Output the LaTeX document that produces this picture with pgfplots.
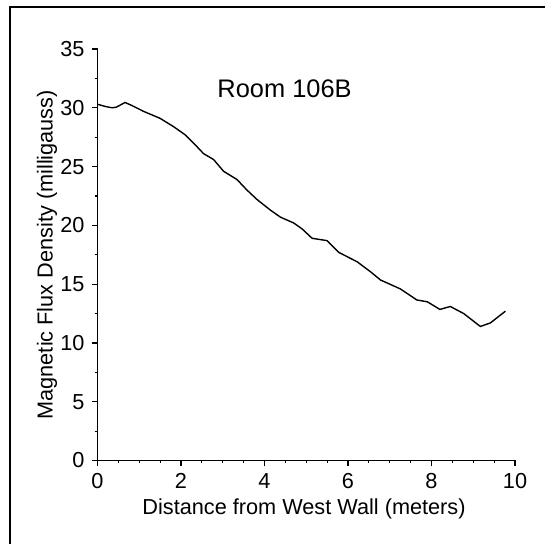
\documentclass[border=0pt]{standalone}
\usepackage{pgfplots}
\pgfplotsset{compat=1.18}
\usepackage{fontspec}
\setmainfont{Liberation Sans}
\begin{document}
\begin{tikzpicture}
\path[use as bounding box] (0pt,0pt) rectangle (272.5pt,272pt);
\draw[line width=1pt] (4.75pt,-5pt) -- (4.75pt,268.5pt) -- (280pt,268.5pt);
\begin{axis}[
  at={(48.75pt,41.75pt)}, anchor=south west,
  width=208.75pt, height=205.75pt, scale only axis,
  xmin=0, xmax=10, ymin=0, ymax=35,
  axis lines=left,
  axis line style={-, line width=0.75pt, black},
  xtick={0,2,...,10}, ytick={0,5,...,35},
  minor x tick num=3, minor y tick num=1,
  tick align=outside,
  major tick length=3pt, minor tick length=1.5pt,
  tick style={black, line width=0.6pt},
  font=\fontsize{10.85}{13}\selectfont,
  /pgf/number format/assume math mode=true,
  xlabel={Distance from West Wall (meters)},
  ylabel={Magnetic Flux Density (milligauss)},
  xlabel style={at={(axis description cs:0.4946,-0.118)}, anchor=center},
  ylabel style={at={(axis description cs:-0.121,0.5)}, anchor=center},
  clip=false,
]
\addplot[black, line width=0.7pt] coordinates {
(0,30.3) (0.2,30.1) (0.35,30.0) (0.45,30.05) (0.58,30.3) (0.66,30.45) (0.82,30.2)
(1.1,29.7) (1.5,29.1) (1.82,28.4) (2.1,27.7) (2.3,27.0) (2.54,26.1) (2.78,25.6)
(3.02,24.6) (3.34,23.9) (3.58,23.0) (3.82,22.2) (4.14,21.3) (4.38,20.7) (4.7,20.2)
(4.9,19.7) (5.14,18.9) (5.5,18.7) (5.78,17.7) (6.22,16.9) (6.54,16.05) (6.78,15.35)
(7.25,14.6) (7.65,13.65) (7.9,13.5) (8.2,12.85) (8.45,13.1) (8.77,12.5) (9.17,11.4)
(9.41,11.7) (9.77,12.7)
};
\node[anchor=base, font=\fontsize{12.7}{15}\selectfont] at (axis cs:4.48,30.9) {Room 106B};
\end{axis}
\end{tikzpicture}
\end{document}
